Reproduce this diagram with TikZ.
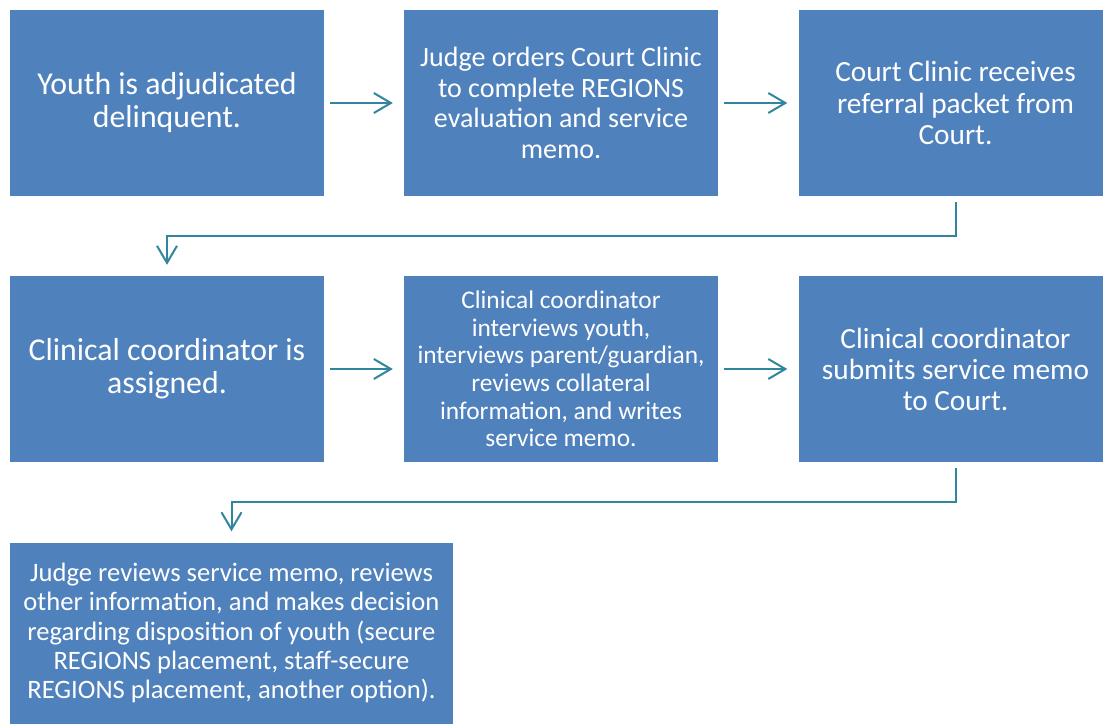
\documentclass[tikz,border=0pt]{standalone}
\usepackage{fontspec}
\setmainfont{Carlito}
\usetikzlibrary{arrows.meta}
\definecolor{boxblue}{HTML}{4F81BD}
\definecolor{arrteal}{HTML}{31859C}
\tikzset{
  stepbox/.style={fill=boxblue, draw=none, text=white, align=center, inner sep=0pt,
    minimum width=314pt, minimum height=186pt},
  fs/.style 2 args={font={\fontsize{#1}{#2}\selectfont}},
  arr/.style={draw=arrteal, line width=2pt, -{Straight Barb[length=17pt,width=20pt,line width=2pt]}}
}
\begin{document}
\begin{tikzpicture}[x=1pt,y=-1pt]
\useasboundingbox (0,0) rectangle (1103,723);
\begin{scope}
\clip (0,0) rectangle (1103,723);
\node[stepbox, fs={31.8}{33}] (b1) at (167,103) {Youth is adjudicated\\delinquent.};
\node[stepbox, fs={28}{30.5}] (b2) at (561,103) {Judge orders Court Clinic\\to complete REGIONS\\evaluation and service\\memo.};
\node[stepbox, fs={29.3}{31.5}] (b3) at (955.5,103) {Court Clinic receives\\referral packet from\\Court.};
\node[stepbox, fs={31.8}{33}] (b4) at (167,369) {Clinical coordinator is\\assigned.};
\node[stepbox, fs={25.4}{27.6}] (b5) at (561,369) {Clinical coordinator\\interviews youth,\\interviews parent/guardian,\\reviews collateral\\information, and writes\\service memo.};
\node[stepbox, fs={29.3}{31}] (b6) at (955.5,369) {Clinical coordinator\\submits service memo\\to Court.};
\node[stepbox, minimum width=443pt, minimum height=181pt, fs={26.6}{29.3}] (b7) at (231.5,633) {Judge reviews service memo, reviews\\other information, and makes decision\\regarding disposition of youth (secure\\REGIONS placement, staff-secure\\REGIONS placement, another option).};
\end{scope}
\draw[arr, shorten <=6pt, shorten >=11pt] (b1) -- (b2);
\draw[arr, shorten <=6pt, shorten >=11pt] (b2) -- (b3);
\draw[arr, shorten <=6pt, shorten >=11pt] (b4) -- (b5);
\draw[arr, shorten <=6pt, shorten >=11pt] (b5) -- (b6);
\draw[arr, shorten <=6pt, shorten >=11pt] (b3.south) -- ++(0,40) -| (b4.north);
\draw[arr, shorten <=6pt, shorten >=11pt] (b6.south) -- ++(0,40) -| (b7.north);
\end{tikzpicture}
\end{document}
